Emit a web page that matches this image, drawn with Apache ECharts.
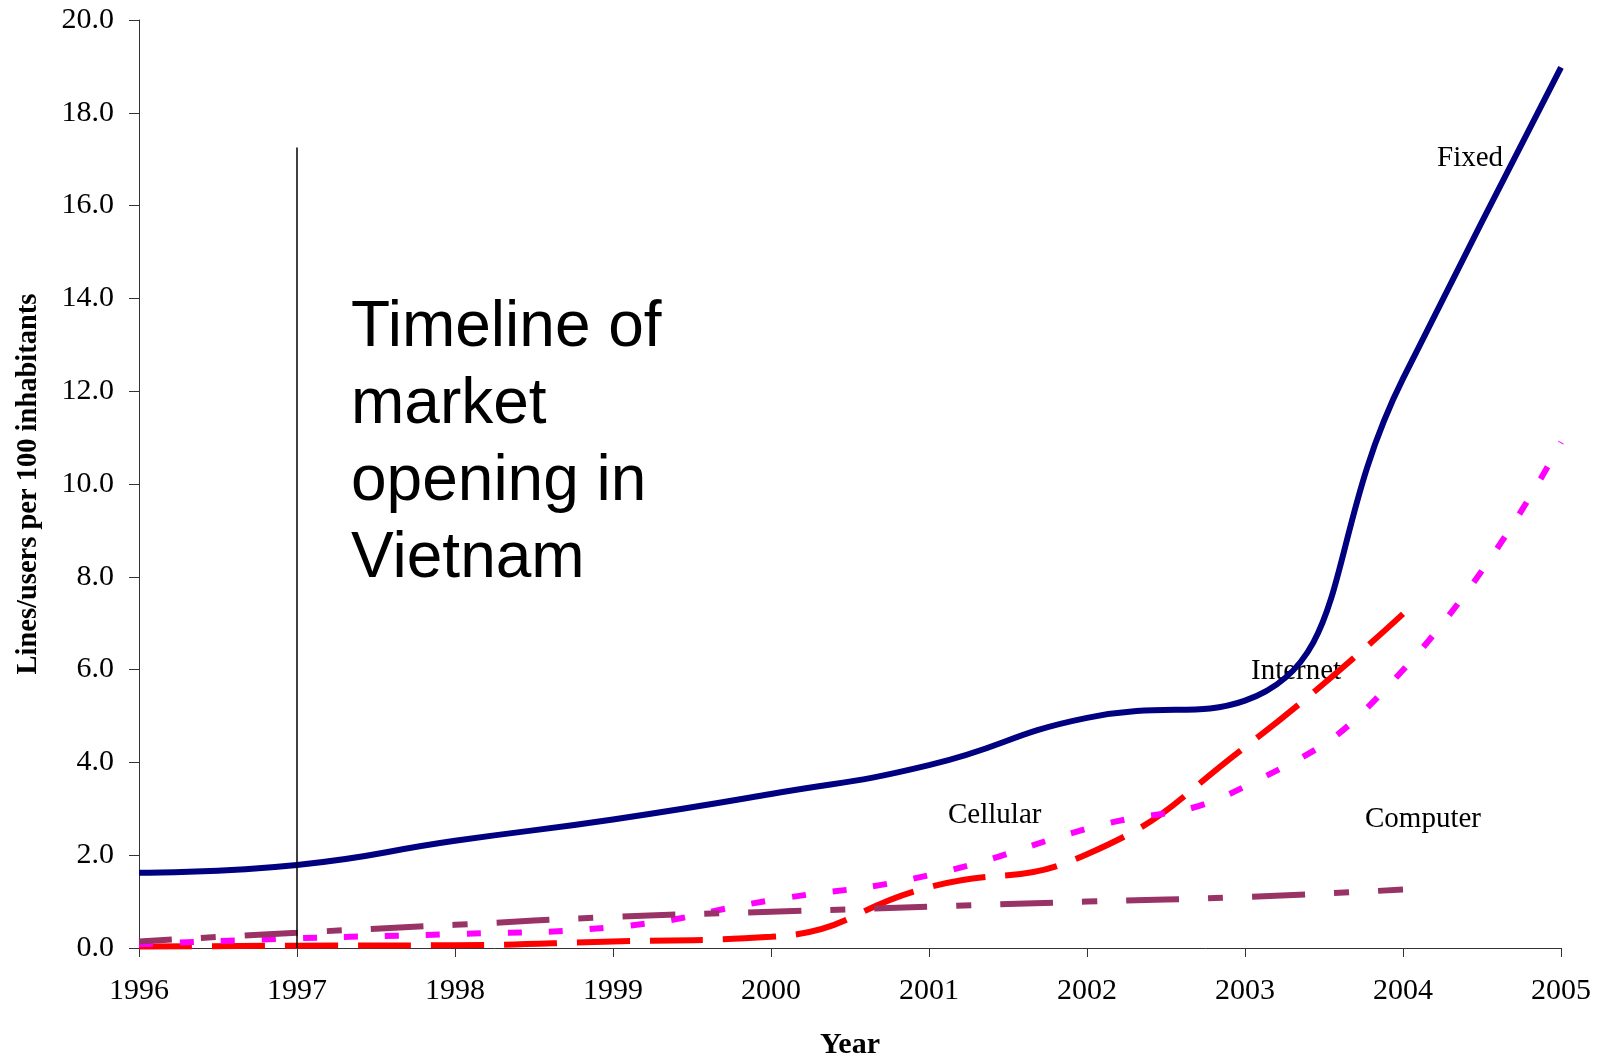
<!DOCTYPE html>
<html>
<head>
<meta charset="utf-8">
<script src="https://cdn.jsdelivr.net/npm/echarts@6/dist/echarts.min.js"></script>
<style>
  html, body { margin: 0; padding: 0; background: #fff; }
  #line_chart { width: 1604px; height: 1054px; }
</style>
</head>
<body>
<div id="line_chart"></div>
<script>
// chart data, lines/users per 100 inhabitants
var years = [1996, 1997, 1998, 1999, 2000, 2001, 2002, 2003, 2004, 2005];
var fixedVals    = [1.62, 1.79, 2.31, 2.77, 3.32, 3.94, 4.96, 5.33, 12.27, 18.98];
var cellularVals = [0.03, 0.05, 0.06, 0.14, 0.24, 1.31, 2.02, 4.33, 7.2];
var internetVals = [0.08, 0.21, 0.3, 0.45, 1.03, 1.57, 2.57, 3.48, 5.99, 10.9];
var computerVals = [0.14, 0.33, 0.5, 0.67, 0.78, 0.89, 1.0, 1.1, 1.26];
var yTicks = [0, 2, 4, 6, 8, 10, 12, 14, 16, 18, 20];
var openingYear = 1997;
var openingTop = 17.25;

function pairs(vals) {
	var out = [];
	for (var i = 0; i < vals.length; i++) {
		out.push([years[i], vals[i]]);
	}
	return out;
}

var myChart = echarts.init(document.getElementById('line_chart'));

var serif = '"Liberation Serif", "Times New Roman", serif';

option = {
	animation: false,
	grid: { left: 139, right: 43, top: 20, bottom: 106, containLabel: false, outerBoundsMode: 'none' },
	xAxis: {
		type: 'value',
		min: years[0],
		max: years[years.length - 1],
		interval: 1,
		axisLine: { lineStyle: { color: '#333', width: 1 } },
		axisTick: { show: true, length: 9, inside: false, lineStyle: { color: '#333' } },
		axisLabel: {
			color: '#000', fontFamily: serif, fontSize: 30, margin: 28,
			formatter: function (v) { return String(v); }
		},
		splitLine: { show: false },
		name: 'Year',
		nameLocation: 'middle',
		nameGap: 82,
		nameTextStyle: { color: '#000', fontFamily: serif, fontSize: 30, fontWeight: 'bold' }
	},
	yAxis: {
		type: 'value',
		min: yTicks[0],
		max: yTicks[yTicks.length - 1],
		interval: 2,
		axisLine: { show: true, lineStyle: { color: '#333', width: 1 } },
		axisTick: { show: true, length: 10, lineStyle: { color: '#333' } },
		axisLabel: {
			color: '#000', fontFamily: serif, fontSize: 30, margin: 25,
			formatter: function (v) { return v.toFixed(1); }
		},
		splitLine: { show: false },
		name: 'Lines/users per 100 inhabitants',
		nameLocation: 'middle',
		nameGap: 96,
		nameTextStyle: { color: '#000', fontFamily: serif, fontSize: 28.5, fontWeight: 'bold' }
	},
	series: [
		{
			name: 'Fixed',
			type: 'line',
			smooth: true,
			showSymbol: false,
			data: pairs(fixedVals),
			lineStyle: { color: '#000080', width: 6 },
			markLine: {
				silent: true,
				symbol: 'none',
				label: { show: false },
				lineStyle: { color: '#000', width: 1.5, type: 'solid' },
				data: [[{ coord: [openingYear, 0] }, { coord: [openingYear, openingTop] }]]
			}
		},
		{
			name: 'Cellular',
			type: 'line',
			smooth: true,
			showSymbol: false,
			data: pairs(cellularVals),
			lineStyle: { color: '#ff0000', width: 6, type: [53, 20], cap: 'butt' }
		},
		{
			name: 'Internet',
			type: 'line',
			smooth: true,
			showSymbol: false,
			data: pairs(internetVals),
			lineStyle: { color: '#ff00ff', width: 6, type: [14, 27], cap: 'butt' }
		},
		{
			name: 'Computer',
			type: 'line',
			smooth: true,
			showSymbol: false,
			data: pairs(computerVals),
			lineStyle: { color: '#993366', width: 6, type: [53, 29, 15, 29], dashOffset: 20, cap: 'butt' }
		}
	],
	graphic: [
		{
			type: 'text', left: 351, top: 290,
			style: {
				text: 'Timeline of\nmarket\nopening in\nVietnam',
				font: '64px "Liberation Sans", Arial, sans-serif',
				lineHeight: 77, fill: '#000'
			}
		},
		{ type: 'text', left: 1437, top: 144, style: { text: 'Fixed', font: '29px ' + serif, fill: '#000' } },
		{ type: 'text', left: 1251, top: 657, style: { text: 'Internet', font: '29px ' + serif, fill: '#000' } },
		{ type: 'text', left: 948, top: 801, style: { text: 'Cellular', font: '29px ' + serif, fill: '#000' } },
		{ type: 'text', left: 1365, top: 805, style: { text: 'Computer', font: '29px ' + serif, fill: '#000' } }
	]
};

myChart.setOption(option);
</script>
</body>
</html>
